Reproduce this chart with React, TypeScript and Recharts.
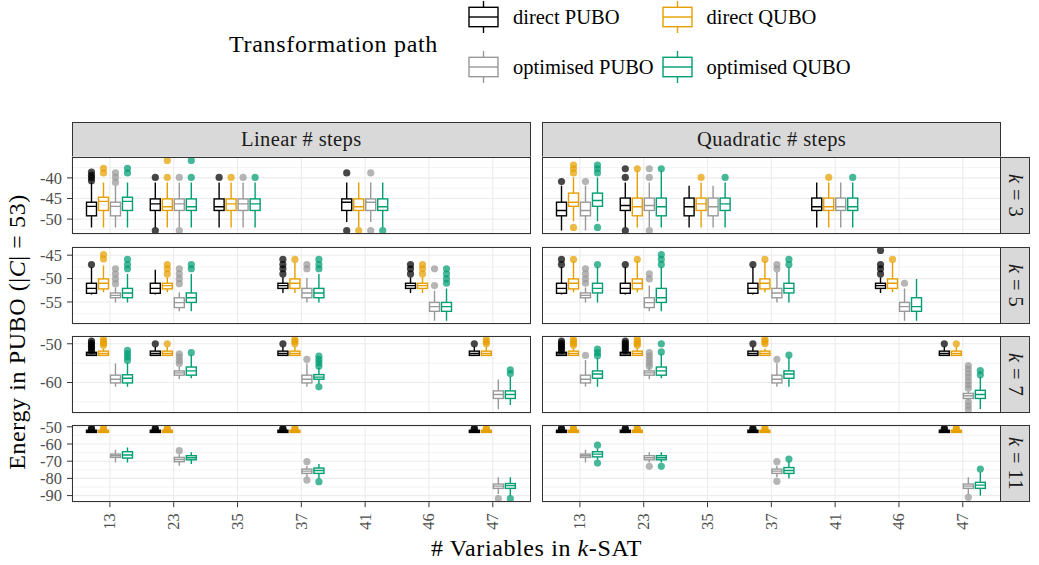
import React from "react";
import { ComposedChart, Bar, XAxis, YAxis, CartesianGrid } from "recharts";

// [variables, lower whisker, q1, median, q3, upper whisker, outliers]
type Box = [string, number, number, number, number, number, number[]];

const categories = ["13", "23", "35", "37", "41", "46", "47"];
const paths = ["direct PUBO", "direct QUBO", "optimised PUBO", "optimised QUBO"];
const pathColours = ["#000000", "#E69F00", "#999999", "#009E73"];
const stepLabels = ["Linear # steps", "Quadratic # steps"];
const kValues = [3, 5, 7, 11];
const rowTicks = [
  [-50, -45, -40],
  [-55, -50, -45],
  [-60, -50],
  [-90, -80, -70, -60, -50],
];
const rowMinor = [
  [-52.5, -47.5, -42.5, -37.5],
  [-57.5, -52.5, -47.5],
  [-65, -55],
  [-85, -75, -65, -55],
];

// k = 3
const lin3dp: Box[] = [
  ["13", -52, -49.2, -46.9, -45.9, -41.1, [-38.6, -39.4, -40, -40.7]],
  ["23", -52, -47.9, -46.3, -45.1, -41.1, [-39.9, -52.8]],
  ["35", -52, -47.9, -47.0, -45.1, -41.1, [-39.9]],
  ["41", -50.7, -47.9, -45.9, -45.1, -41.1, [-38.8, -52.8]],
];
const lin3dq: Box[] = [
  ["13", -52, -47.9, -45.7, -44.7, -41.1, [-37.7, -38.8]],
  ["23", -52, -47.9, -47.0, -45.1, -41.1, [-39.9, -35.8]],
  ["35", -52, -47.9, -46.3, -45.1, -41.1, [-39.9]],
  ["41", -52, -47.9, -47.0, -45.1, -41.1, [-52.8]],
];
const lin3op: Box[] = [
  ["13", -52, -49.2, -46.9, -45.9, -41.9, [-38.8, -39.9, -41.1]],
  ["23", -52, -47.9, -46.3, -45.1, -41.1, [-39.9, -52.8]],
  ["35", -52, -47.9, -46.3, -45.1, -41.1, [-39.9]],
  ["41", -50.7, -47.9, -45.9, -45.1, -41.1, [-38.8, -52.8]],
];
const lin3oq: Box[] = [
  ["13", -52, -47.9, -45.7, -44.7, -41.1, [-37.7, -38.8]],
  ["23", -52, -47.9, -47.0, -45.1, -41.1, [-39.9, -35.8]],
  ["35", -52, -47.9, -46.3, -45.1, -41.1, [-39.9]],
  ["41", -52, -47.9, -47.0, -45.1, -41.1, [-52.8]],
];
const quad3dp: Box[] = [
  ["13", -52.75, -49.2, -47.9, -45.9, -41.9, [-40.9]],
  ["23", -52, -47.9, -46.7, -44.9, -41.1, [-37.8, -39.9, -52.8]],
  ["35", -52, -49.2, -47.0, -44.9, -41.9, []],
  ["41", -52, -47.9, -47.0, -44.9, -41.1, []],
];
const quad3dq: Box[] = [
  ["13", -50.5, -46.9, -45.9, -43.7, -39.9, [-36.9, -37.8, -38.8, -52]],
  ["23", -52, -49.2, -47.0, -44.9, -38.3, [-37.8]],
  ["35", -52, -47.9, -46.3, -44.9, -41.1, [-39.9]],
  ["41", -52, -47.9, -47.0, -44.9, -41.1, [-39.9]],
];
const quad3op: Box[] = [
  ["13", -52.75, -49.2, -47.9, -45.9, -41.9, [-40.9]],
  ["23", -52, -47.9, -46.7, -44.9, -41.1, [-37.8, -39.9, -52.8]],
  ["35", -52, -49.2, -47.0, -44.9, -41.9, []],
  ["41", -52, -47.9, -47.0, -44.9, -41.1, []],
];
const quad3oq: Box[] = [
  ["13", -50.5, -46.9, -45.5, -43.7, -39.9, [-36.9, -37.8, -38.8, -52]],
  ["23", -52, -49.2, -47.0, -44.9, -38.3, [-37.8]],
  ["35", -52, -47.9, -46.3, -44.9, -41.1, [-39.9]],
  ["41", -52, -47.9, -47.0, -44.9, -41.1, [-39.9]],
];

// k = 5
const lin5dp: Box[] = [
  ["13", -53.4, -53.15, -52.1, -51.0, -47.6, [-47.0]],
  ["23", -53.4, -53.15, -52.1, -51.0, -48.1, []],
  ["37", -53.1, -52.1, -51.5, -51.0, -49.7, [-45.9, -47.0, -47.9, -49.0]],
  ["46", -53.1, -52.1, -51.5, -51.0, -49.7, [-47.0, -47.9, -49.0]],
];
const lin5dq: Box[] = [
  ["13", -52.9, -52.2, -51.0, -50.07, -47.2, [-44.85, -45.8]],
  ["23", -52.9, -52.2, -51.5, -51.0, -49.7, [-47.0, -47.9, -49.0]],
  ["37", -53.1, -52.1, -51.0, -50.07, -46.5, [-45.9]],
  ["46", -53.1, -52.1, -51.5, -51.0, -49.7, [-47.0, -47.9, -49.0]],
];
const lin5op: Box[] = [
  ["13", -55.1, -54.1, -53.6, -53.07, -51.9, [-47.9, -49.0, -50.07, -51.1]],
  ["23", -57.0, -56.2, -55.15, -54.1, -52.9, [-47.9, -49.0, -50.07, -51.1]],
  ["37", -55.1, -54.1, -53.07, -52.1, -49.9, [-47.0, -47.9]],
  ["46", -59.0, -57.0, -56.0, -55.1, -52.6, [-51.5, -47.9]],
];
const lin5oq: Box[] = [
  ["13", -55.1, -54.1, -53.07, -52.1, -49.0, [-45.9, -47.0, -47.9]],
  ["23", -57.0, -55.1, -54.1, -53.07, -49.0, [-47.0, -47.9]],
  ["37", -55.1, -54.1, -53.07, -52.1, -49.0, [-45.9, -47.0, -47.9]],
  ["46", -59.0, -57.0, -56.0, -55.1, -52.1, [-47.9, -49.0, -50.07, -51.0]],
];
const quad5dp: Box[] = [
  ["13", -53.4, -53.15, -52.1, -51.0, -47.5, [-45.9, -47.0]],
  ["23", -53.4, -53.15, -52.1, -51.0, -47.5, [-47.0]],
  ["37", -53.4, -53.15, -52.1, -51.0, -47.5, [-47.0]],
  ["46", -53.1, -52.1, -51.5, -51.0, -49.7, [-44.0, -47.0, -47.9, -49.0]],
];
const quad5dq: Box[] = [
  ["13", -52.9, -52.2, -51.0, -50.07, -46.3, [-45.9]],
  ["23", -52.9, -52.2, -51.0, -50.07, -46.3, [-45.9]],
  ["37", -52.9, -52.2, -51.0, -50.07, -46.3, [-45.9]],
  ["46", -52.9, -52.1, -51.0, -50.07, -46.5, [-45.9]],
];
const quad5op: Box[] = [
  ["13", -55.1, -54.1, -53.6, -53.07, -51.9, [-47.9, -49.0, -50.07, -51.0]],
  ["23", -57.0, -56.2, -55.15, -54.1, -51.5, [-49.0, -50.07]],
  ["37", -55.1, -54.1, -53.07, -52.1, -48.6, [-47.0, -47.9]],
  ["46", -59.0, -57.0, -56.0, -55.1, -52.1, [-51.0]],
];
const quad5oq: Box[] = [
  ["13", -55.1, -53.07, -52.1, -51.0, -47.5, [-47.0]],
  ["23", -57.0, -55.1, -54.1, -52.1, -47.5, [-44.85, -45.9, -47.0]],
  ["37", -55.1, -53.07, -52.1, -51.0, -47.5, [-45.9, -47.0]],
  ["46", -59.0, -57.0, -56.0, -54.1, -50.07, []],
];

// k = 7
const lin7dp: Box[] = [
  ["13", -53.0, -53.0, -52.6, -52.2, -52.0, [-49.3, -49.8, -50.3, -50.8, -51.3, -51.8]],
  ["23", -53.0, -53.0, -52.5, -51.9, -50.8, [-50.0]],
  ["37", -53.0, -53.0, -52.5, -51.9, -50.8, [-50.0]],
  ["47", -53.0, -53.0, -52.5, -51.9, -50.8, [-50.0]],
];
const lin7dq: Box[] = [
  ["13", -53.0, -53.0, -52.5, -51.9, -51.3, [-48.9, -49.4, -49.9, -50.4]],
  ["23", -53.0, -53.0, -52.5, -51.9, -50.8, [-50.0]],
  ["37", -53.0, -53.0, -52.5, -51.9, -50.8, [-48.9, -49.4, -50.0]],
  ["47", -53.0, -53.0, -52.5, -51.9, -50.8, [-48.9, -49.5, -50.0]],
];
const lin7op: Box[] = [
  ["13", -61.1, -60.1, -59.15, -58.1, -55.1, []],
  ["23", -59.15, -58.1, -57.5, -57.0, -56.0, [-52.6, -53.4, -54.3, -55.1]],
  ["37", -61.1, -60.1, -59.15, -58.1, -55.1, [-54.0]],
  ["47", -66.9, -64.1, -63.1, -62.15, -59.2, []],
];
const lin7oq: Box[] = [
  ["13", -61.1, -60.1, -58.9, -58.0, -54.9, [-51.7, -52.6, -53.4, -54.3]],
  ["23", -58.9, -58.1, -57.0, -56.0, -52.8, [-52.3]],
  ["37", -60.3, -59.15, -58.6, -57.95, -56.2, [-53.2, -54.1, -54.9, -55.8, -61.1]],
  ["47", -65.8, -64.1, -63.1, -62.15, -58.5, [-56.7, -57.7]],
];
const quad7dp: Box[] = [
  ["13", -53.0, -53.0, -52.6, -52.2, -52.0, [-49.3, -49.8, -50.3, -50.8, -51.3, -51.8]],
  ["23", -53.0, -53.0, -52.6, -52.2, -52.0, [-49.3, -49.8, -50.3, -50.8, -51.3, -51.8]],
  ["37", -53.0, -53.0, -52.5, -51.9, -50.8, [-50.0]],
  ["47", -53.0, -53.0, -52.5, -51.9, -50.8, [-50.0]],
];
const quad7dq: Box[] = [
  ["13", -53.0, -53.0, -52.5, -51.9, -51.3, [-48.9, -49.4, -49.9, -50.4]],
  ["23", -53.0, -53.0, -52.5, -51.9, -51.3, [-48.9, -49.4, -49.9, -50.4]],
  ["37", -53.0, -53.0, -52.5, -51.9, -51.3, [-48.9, -49.4, -50.0]],
  ["47", -53.0, -53.0, -52.5, -51.9, -50.8, [-50.0]],
];
const quad7op: Box[] = [
  ["13", -61.1, -60.1, -59.15, -58.1, -54.2, [-53.0]],
  ["23", -59.15, -58.1, -57.5, -57.0, -56.0, [-52.3, -53.2, -54.1, -55.0, -55.8]],
  ["37", -61.1, -60.1, -59.15, -58.1, -55.0, [-54.0]],
  ["47", -64.6, -64.1, -63.4, -62.8, -62.3,
    [-55.6, -56.6, -57.6, -58.6, -59.6, -60.6, -61.5, -65.0, -66.0, -67.0]],
];
const quad7oq: Box[] = [
  ["13", -61.1, -58.9, -57.8, -57.0, -53.8, [-51.4, -52.3, -53.1]],
  ["23", -58.9, -58.1, -57.0, -56.0, -52.6, [-50.0, -52.1]],
  ["37", -61.1, -58.9, -57.8, -57.0, -53.5, [-52.9]],
  ["47", -66.8, -64.1, -63.1, -62.0, -58.6, [-56.9, -58.0]],
];

// k = 11
const lin11dp: Box[] = [
  ["13", -53.3, -53.3, -52.6, -52.0, -51.8, [-51.0, -51.4]],
  ["23", -53.3, -53.3, -52.6, -52.0, -51.8, [-51.0, -51.4]],
  ["37", -53.3, -53.3, -52.6, -52.0, -51.8, [-51.0, -51.4]],
  ["47", -53.3, -53.3, -52.6, -52.0, -51.8, [-51.0, -51.4]],
];
const lin11dq: Box[] = [
  ["13", -53.3, -53.3, -52.6, -52.0, -51.8, [-51.0, -51.4]],
  ["23", -53.3, -53.3, -52.6, -52.0, -51.8, [-51.0, -51.4]],
  ["37", -53.3, -53.3, -52.6, -52.0, -51.8, [-51.0, -51.4]],
  ["47", -53.3, -53.3, -52.6, -52.0, -51.8, [-51.0, -51.4]],
];
const lin11op: Box[] = [
  ["13", -70.7, -67.8, -66.8, -65.9, -63.3, []],
  ["23", -72.6, -70.3, -69.0, -67.8, -65.9, [-63.9]],
  ["37", -79.4, -77.1, -75.8, -74.6, -72.6, [-70.3, -81.0]],
  ["47", -89.1, -85.8, -84.5, -83.3, -79.4, [-91.8]],
];
const lin11oq: Box[] = [
  ["13", -70.7, -68.2, -66.4, -64.5, -62.0, []],
  ["23", -71.7, -69.2, -68.0, -66.8, -64.8, []],
  ["37", -80.1, -77.1, -75.4, -74.0, -71.7, [-81.9]],
  ["47", -90.1, -85.8, -84.2, -83.0, -79.4, [-91.8]],
];
const quad11dp: Box[] = lin11dp;
const quad11dq: Box[] = lin11dq;
const quad11op: Box[] = [
  ["13", -70.7, -67.8, -66.8, -65.9, -63.3, []],
  ["23", -70.7, -69.2, -68.0, -66.8, -64.8, [-73.0]],
  ["37", -79.4, -77.1, -75.8, -74.6, -72.6, [-70.3, -81.7]],
  ["47", -89.1, -85.8, -84.5, -83.3, -79.4, [-91.0]],
];
const quad11oq: Box[] = [
  ["13", -69.2, -67.5, -65.9, -64.5, -62.6, [-60.7, -71.1]],
  ["23", -70.7, -69.2, -68.0, -66.8, -64.8, [-73.0]],
  ["37", -80.1, -77.1, -75.4, -73.7, -70.3, [-68.8]],
  ["47", -90.1, -85.8, -83.9, -82.3, -76.5, [-74.6]],
];

// facets[row][column] -> one list per transformation path
const facets: Box[][][][] = [
  [[lin3dp, lin3dq, lin3op, lin3oq], [quad3dp, quad3dq, quad3op, quad3oq]],
  [[lin5dp, lin5dq, lin5op, lin5oq], [quad5dp, quad5dq, quad5op, quad5oq]],
  [[lin7dp, lin7dq, lin7op, lin7oq], [quad7dp, quad7dq, quad7op, quad7oq]],
  [[lin11dp, lin11dq, lin11op, lin11oq], [quad11dp, quad11dq, quad11op, quad11oq]],
];

const font = "'Liberation Serif', 'DejaVu Serif', serif";
const panelX = [72, 542.3];
const panelW = 458.7;
const panelH = 77.2;
const rowTop = [157.3, 246.6, 335.9, 425.3];
const stripTop = 121.7;
const stripRightW = 30.5;
const axisH = 48;
const slack = 10; // room above/below each plot so edge tick labels are not cut
const border = "1.1px solid #333333";

function buildRows(series: Box[][]) {
  return categories.map((name) => {
    const row: any = { name };
    series.forEach((list, i) => {
      const b = list.find((d) => d[0] === name);
      row["r" + i] = b ? [b[1], b[5]] : null;
      row["b" + i] = b ?? null;
    });
    return row;
  });
}

// free y scale per k, expanded by 5% like ggplot
function rowDomain(r: number): [number, number] {
  const vals: number[] = [];
  facets[r].forEach((col) =>
    col.forEach((list) =>
      list.forEach((b) => vals.push(b[1], b[5], ...b[6]))
    )
  );
  const lo = Math.min(...vals);
  const hi = Math.max(...vals);
  const pad = (hi - lo) * 0.05;
  return [lo - pad, hi + pad];
}

function BoxShape(props: any) {
  const { x, y, width, height, payload, idx } = props;
  const b: Box | null = payload ? payload["b" + idx] : null;
  if (!b) return null;
  const [, lo, q1, med, q3, hi, out] = b;
  const top = Math.min(y, y + height);
  const bottom = Math.max(y, y + height);
  // position of any value inside the bar's own [lo, hi] pixel span
  const py = (v: number) => bottom - ((v - lo) / (hi - lo)) * (bottom - top);
  const cx = x + width / 2;
  const c = pathColours[idx];
  const sw = 1.4;
  return (
    <g>
      <line x1={cx} x2={cx} y1={py(hi)} y2={py(q3)} stroke={c} strokeWidth={sw} />
      <line x1={cx} x2={cx} y1={py(q1)} y2={py(lo)} stroke={c} strokeWidth={sw} />
      <rect
        x={x + 0.5}
        y={py(q3)}
        width={width - 1}
        height={Math.max(py(q1) - py(q3), 0.5)}
        fill="#ffffff"
        stroke={c}
        strokeWidth={sw}
      />
      <line x1={x + 0.5} x2={x + width - 0.5} y1={py(med)} y2={py(med)} stroke={c} strokeWidth={sw} />
      {out.map((v, i) => (
        <circle key={i} cx={cx} cy={py(v)} r={3.6} fill={c} fillOpacity={0.72} />
      ))}
    </g>
  );
}

function XTick(props: any) {
  const { x, y, payload } = props;
  return (
    <text
      x={x}
      y={y}
      transform={`rotate(-90, ${x}, ${y})`}
      textAnchor="end"
      dominantBaseline="central"
      fill="#4D4D4D"
      fontSize={16.5}
      fontFamily={font}
    >
      {payload.value}
    </text>
  );
}

function Panel({ r, c }: { r: number; c: number }) {
  const data = buildRows(facets[r][c]);
  const bottomRow = r === kValues.length - 1;
  const left = c === 0 ? 0 : panelX[1];
  const width = c === 0 ? panelX[0] + panelW : panelW;
  const height = panelH + 2 * slack + (bottomRow ? axisH : 0);
  return (
    <div style={{ position: "absolute", left, top: rowTop[r] - slack }}>
      <ComposedChart
        width={width}
        height={height}
        data={data}
        margin={{ top: slack, right: 0, bottom: slack, left: 0 }}
        barCategoryGap="12.5%"
        barGap={1}
      >
        <CartesianGrid
          stroke="#EBEBEB"
          strokeWidth={0.6}
          vertical={false}
          horizontalValues={rowMinor[r]}
        />
        <CartesianGrid stroke="#EBEBEB" strokeWidth={1.1} />
        <XAxis
          dataKey="name"
          type="category"
          padding={{ left: 6, right: 6 }}
          hide={!bottomRow}
          height={axisH}
          interval={0}
          axisLine={false}
          stroke="#333333"
          tickSize={5}
          tickMargin={6}
          tick={<XTick />}
        />
        <YAxis
          type="number"
          domain={rowDomain(r)}
          ticks={rowTicks[r]}
          allowDataOverflow
          interval={0}
          hide={c === 1}
          width={panelX[0]}
          axisLine={false}
          stroke="#333333"
          tickSize={5}
          tickMargin={5}
          tick={{ fill: "#4D4D4D", fontSize: 16.5, fontFamily: font }}
        />
        {paths.map((p, i) => (
          <Bar
            key={p}
            dataKey={"r" + i}
            name={p}
            fill={pathColours[i]}
            isAnimationActive={false}
            shape={(props: any) => <BoxShape {...props} idx={i} />}
          />
        ))}
      </ComposedChart>
    </div>
  );
}

function LegendKey({ colour }: { colour: string }) {
  return (
    <svg width={31} height={32} style={{ display: "block" }}>
      <line x1={15.5} x2={15.5} y1={0} y2={32} stroke={colour} strokeWidth={1.4} />
      <rect x={1} y={6.3} width={29} height={19.4} fill="#ffffff" stroke={colour} strokeWidth={1.4} />
      <line x1={1} x2={30} y1={16} y2={16} stroke={colour} strokeWidth={1.4} />
    </svg>
  );
}

export default function App() {
  const keyX = [468, 661.5];
  const keyY = [1, 51];
  return (
    <div
      style={{
        position: "absolute",
        left: 0,
        top: 0,
        width: 1039,
        height: 565,
        background: "#ffffff",
        fontFamily: font,
        color: "#000000",
      }}
    >
      {/* legend */}
      <div
        style={{
          position: "absolute",
          left: 229,
          top: 29,
          fontSize: 24,
          letterSpacing: 0.7,
          whiteSpace: "nowrap",
          lineHeight: "30px",
        }}
      >
        Transformation path
      </div>
      {paths.map((p, i) => {
        const col = i % 2;
        const row = Math.floor(i / 2);
        return (
          <div
            key={p}
            style={{
              position: "absolute",
              left: keyX[col],
              top: keyY[row],
              height: 32,
              display: "flex",
              alignItems: "center",
              whiteSpace: "nowrap",
            }}
          >
            <LegendKey colour={pathColours[i]} />
            <span style={{ marginLeft: 14, fontSize: 20.5 }}>{p}</span>
          </div>
        );
      })}

      {/* column strips */}
      {stepLabels.map((s, c) => (
        <div
          key={s}
          style={{
            position: "absolute",
            left: panelX[c],
            top: stripTop,
            width: panelW,
            height: rowTop[0] - stripTop + 0.5,
            boxSizing: "border-box",
            background: "#D9D9D9",
            border,
            display: "flex",
            alignItems: "center",
            justifyContent: "center",
            fontSize: 20.5,
            letterSpacing: 0.4,
            color: "#1A1A1A",
          }}
        >
          {s}
        </div>
      ))}

      {/* row strips */}
      {kValues.map((k, r) => (
        <div
          key={k}
          style={{
            position: "absolute",
            left: panelX[1] + panelW - 1.1,
            top: rowTop[r],
            width: stripRightW,
            height: panelH,
            boxSizing: "border-box",
            background: "#D9D9D9",
            border,
            display: "flex",
            alignItems: "center",
            justifyContent: "center",
            fontSize: 20.5,
            letterSpacing: 0.4,
            color: "#1A1A1A",
          }}
        >
          <span style={{ writingMode: "vertical-rl", whiteSpace: "nowrap" }}>
            <i>k</i> = {k}
          </span>
        </div>
      ))}

      {kValues.map((k, r) =>
        [0, 1].map((c) => <Panel key={`${k}-${c}`} r={r} c={c} />)
      )}

      {/* panel borders */}
      {kValues.map((k, r) =>
        [0, 1].map((c) => (
          <div
            key={`b${k}-${c}`}
            style={{
              position: "absolute",
              left: panelX[c],
              top: rowTop[r],
              width: panelW,
              height: panelH,
              boxSizing: "border-box",
              border,
              pointerEvents: "none",
            }}
          />
        ))
      )}

      {/* axis titles */}
      <div
        style={{
          position: "absolute",
          left: panelX[0],
          width: panelX[1] + panelW - panelX[0],
          top: 533,
          textAlign: "center",
          fontSize: 24,
          letterSpacing: 0.6,
          lineHeight: "30px",
          whiteSpace: "nowrap",
        }}
      >
        # Variables in <i>k</i>-SAT
      </div>
      <div
        style={{
          position: "absolute",
          left: 17,
          top: 332,
          transform: "translate(-50%, -50%) rotate(-90deg)",
          fontSize: 24,
          letterSpacing: 0.6,
          lineHeight: "30px",
          whiteSpace: "nowrap",
        }}
      >
        Energy in PUBO (|<i>C</i>| = 53)
      </div>
    </div>
  );
}
